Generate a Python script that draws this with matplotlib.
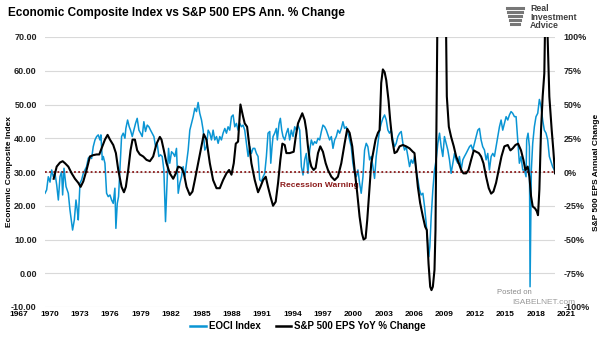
import numpy as np
import matplotlib
matplotlib.use("Agg")
import matplotlib.pyplot as plt
from matplotlib.lines import Line2D

plt.rcParams['font.family'] = ['Liberation Sans', 'DejaVu Sans']

# ------------------------------------------------------------------------
# EOCI index (left axis)
eoci_year = [
    1967.00, 1967.18, 1967.36, 1967.55, 1967.73, 1967.91, 1968.09, 1968.28, 1968.46, 1968.64,
    1968.82, 1968.93, 1969.08, 1969.30, 1969.55, 1969.73, 1969.92, 1970.02, 1970.21, 1970.39,
    1970.53, 1970.64, 1970.83, 1971.01, 1971.19, 1971.37, 1971.55, 1971.74, 1971.92, 1972.10,
    1972.28, 1972.47, 1972.65, 1972.83, 1973.01, 1973.12, 1973.27, 1973.38, 1973.56, 1973.74,
    1973.92, 1974.11, 1974.29, 1974.47, 1974.65, 1974.76, 1974.91, 1975.05, 1975.20, 1975.38,
    1975.56, 1975.75, 1975.85, 1976.04, 1976.22, 1976.36, 1976.55, 1976.73, 1976.91, 1977.09,
    1977.28, 1977.46, 1977.64, 1977.82, 1978.00, 1978.19, 1978.37, 1978.55, 1978.73, 1978.92,
    1979.10, 1979.28, 1979.46, 1979.64, 1979.83, 1980.01, 1980.19, 1980.37, 1980.52, 1980.66,
    1980.85, 1981.03, 1981.21, 1981.39, 1981.58, 1981.76, 1981.94, 1982.12, 1982.30, 1982.49,
    1982.67, 1982.85, 1983.03, 1983.22, 1983.40, 1983.58, 1983.76, 1983.94, 1984.13, 1984.31,
    1984.49, 1984.67, 1984.86, 1985.04, 1985.22, 1985.40, 1985.58, 1985.77, 1985.95, 1986.13,
    1986.31, 1986.49, 1986.68, 1986.86, 1987.04, 1987.22, 1987.41, 1987.59, 1987.77, 1987.95,
    1988.13, 1988.32, 1988.50, 1988.68, 1988.86, 1989.05, 1989.23, 1989.41, 1989.59, 1989.77,
    1989.96, 1990.14, 1990.32, 1990.50, 1990.69, 1990.87, 1991.05, 1991.23, 1991.41, 1991.60,
    1991.71, 1991.85, 1991.96, 1992.14, 1992.32, 1992.43, 1992.62, 1992.76, 1992.91, 1993.05,
    1993.24, 1993.42, 1993.60, 1993.78, 1993.96, 1994.15, 1994.33, 1994.51, 1994.69, 1994.88,
    1995.06, 1995.24, 1995.42, 1995.60, 1995.78, 1995.97, 1996.15, 1996.33, 1996.51, 1996.70,
    1996.88, 1997.06, 1997.24, 1997.42, 1997.61, 1997.79, 1997.97, 1998.15, 1998.34, 1998.52,
    1998.70, 1998.88, 1999.06, 1999.25, 1999.43, 1999.61, 1999.79, 1999.97, 2000.16, 2000.34,
    2000.52, 2000.70, 2000.89, 2001.07, 2001.25, 2001.43, 2001.61, 2001.80, 2001.98, 2002.16,
    2002.34, 2002.53, 2002.71, 2002.89, 2003.07, 2003.25, 2003.44, 2003.62, 2003.80, 2003.98,
    2004.17, 2004.35, 2004.53, 2004.71, 2004.89, 2005.08, 2005.26, 2005.44, 2005.62, 2005.81,
    2005.99, 2006.17, 2006.35, 2006.53, 2006.72, 2006.90, 2007.08, 2007.26, 2007.44, 2007.63,
    2007.81, 2007.99, 2008.17, 2008.36, 2008.54, 2008.72, 2008.90, 2009.01, 2009.12, 2009.27,
    2009.45, 2009.63, 2009.81, 2010.00, 2010.18, 2010.36, 2010.54, 2010.72, 2010.91, 2011.09,
    2011.27, 2011.45, 2011.64, 2011.82, 2012.00, 2012.18, 2012.36, 2012.55, 2012.73, 2012.91,
    2013.09, 2013.27, 2013.46, 2013.64, 2013.82, 2014.00, 2014.19, 2014.37, 2014.55, 2014.73,
    2014.91, 2015.10, 2015.28, 2015.46, 2015.64, 2015.83, 2016.01, 2016.19, 2016.37, 2016.55,
    2016.74, 2016.92, 2017.10, 2017.28, 2017.47, 2017.65, 2017.83, 2018.01, 2018.19, 2018.38,
    2018.56, 2018.74, 2018.92, 2019.10, 2019.29, 2019.47, 2019.65, 2019.72, 2019.87, 2020.02,
    2020.09, 2020.23, 2020.38, 2020.56, 2020.74, 2020.93, 2021.11, 2021.29, 2021.47, 2021.65,
    2021.84, 2022.02, 2022.20, 2022.39, 2022.57, 2022.75,
]
eoci_value = [
    23.7, 24.7, 28.6, 27.0, 30.6, 28.6, 29.6, 26.2, 21.7, 28.6,
    30.1, 23.2, 31.1, 25.7, 23.7, 18.8, 14.8, 12.8, 15.8, 21.7,
    18.8, 15.8, 26.7, 27.7, 29.6, 30.6, 31.6, 34.1, 34.6, 34.0,
    37.5, 39.5, 40.5, 41.0, 39.5, 41.0, 33.6, 34.6, 32.6, 23.7,
    22.7, 23.2, 21.7, 20.7, 25.2, 13.3, 20.7, 22.7, 30.6, 40.5,
    41.5, 40.0, 42.9, 45.4, 43.4, 42.4, 40.5, 42.4, 44.4, 45.9,
    42.4, 41.5, 40.5, 44.9, 42.0, 43.9, 43.4, 42.4, 41.5, 40.5,
    37.5, 38.5, 34.6, 35.1, 34.6, 30.6, 15.3, 27.7, 37.0, 32.6,
    36.0, 35.5, 34.6, 37.0, 23.7, 26.7, 28.6, 31.6, 28.6, 32.6,
    36.5, 42.4, 44.4, 46.4, 48.9, 47.9, 50.6, 47.4, 45.4, 42.4,
    36.5, 37.5, 42.4, 41.5, 39.5, 42.4, 39.5, 40.5, 38.5, 40.5,
    39.5, 41.5, 42.9, 41.5, 43.4, 42.4, 46.4, 46.9, 43.4, 44.4,
    42.4, 44.4, 43.4, 43.9, 42.4, 38.5, 34.6, 37.5, 35.5, 37.0,
    37.0, 35.5, 34.6, 27.7, 27.2, 28.6, 29.6, 34.6, 41.5, 42.0,
    32.6, 37.5, 40.5, 41.5, 42.9, 39.5, 44.4, 45.9, 42.4, 40.5,
    39.5, 41.5, 42.9, 39.5, 42.4, 40.5, 43.4, 42.4, 43.9, 42.4,
    31.6, 29.1, 33.6, 35.5, 29.6, 36.5, 39.5, 38.0, 39.0, 38.5,
    40.0, 39.5, 41.9, 43.9, 43.4, 42.4, 41.0, 39.5, 40.5, 37.0,
    39.5, 40.5, 42.4, 41.5, 42.9, 44.9, 42.9, 43.4, 41.5, 39.5,
    37.5, 32.6, 29.6, 28.6, 30.6, 26.7, 23.7, 28.6, 36.5, 38.5,
    37.5, 33.6, 34.6, 31.6, 28.1, 34.6, 38.5, 42.4, 44.4, 45.9,
    46.9, 45.4, 42.4, 41.5, 42.4, 39.5, 37.5, 38.5, 40.5, 41.5,
    42.0, 38.5, 36.5, 37.5, 34.6, 31.6, 33.6, 32.6, 34.6, 30.6,
    27.7, 24.7, 23.2, 23.7, 19.8, 14.8, 8.9, 4.9, 7.9, 16.8,
    24.7, 30.6, 33.6, 38.5, 41.5, 37.5, 34.6, 40.5, 38.5, 36.5,
    33.6, 29.6, 32.6, 35.5, 33.6, 32.6, 34.6, 30.6, 33.6, 34.6,
    35.5, 36.5, 37.5, 38.0, 36.5, 38.5, 40.5, 42.4, 42.9, 39.5,
    37.5, 36.5, 33.6, 35.5, 30.6, 34.6, 35.5, 34.6, 37.5, 40.5,
    43.4, 45.4, 42.4, 44.4, 46.4, 45.4, 46.9, 47.9, 47.4, 46.4,
    46.4, 39.5, 32.6, 34.6, 30.6, 30.6, 28.6, 39.5, 41.5, 37.5,
    -4.0, 30.6, 38.5, 43.4, 46.4, 47.4, 51.5, 49.4, 45.4, 42.4,
    41.5, 39.5, 34.6, 33.0, 31.5, 30.6,
]

# S&P 500 EPS year-over-year change, % (right axis)
eps_year = [
    1967.95, 1968.28, 1968.64, 1968.93, 1969.19, 1969.55, 1969.92, 1970.28, 1970.64, 1970.90,
    1971.19, 1971.55, 1971.92, 1972.28, 1972.65, 1972.94, 1973.19, 1973.56, 1973.85, 1974.11,
    1974.47, 1974.76, 1975.02, 1975.38, 1975.64, 1975.85, 1976.11, 1976.36, 1976.58, 1976.84,
    1977.09, 1977.38, 1977.75, 1978.11, 1978.48, 1978.84, 1979.21, 1979.57, 1979.75, 1980.01,
    1980.30, 1980.66, 1981.03, 1981.32, 1981.58, 1981.94, 1982.20, 1982.49, 1982.85, 1983.14,
    1983.40, 1983.76, 1984.13, 1984.38, 1984.67, 1985.04, 1985.40, 1985.77, 1986.13, 1986.49,
    1986.86, 1987.15, 1987.41, 1987.66, 1987.88, 1988.13, 1988.39, 1988.68, 1988.86, 1989.12,
    1989.34, 1989.59, 1989.96, 1990.32, 1990.58, 1990.87, 1991.16, 1991.41, 1991.67, 1991.96,
    1992.25, 1992.51, 1992.76, 1992.98, 1993.24, 1993.42, 1993.78, 1994.22, 1994.44, 1994.69,
    1994.88, 1995.16, 1995.42, 1995.60, 1995.78, 1995.97, 1996.15, 1996.40, 1996.62, 1996.88,
    1997.13, 1997.42, 1997.72, 1997.97, 1998.34, 1998.70, 1999.06, 1999.43, 1999.79, 2000.08,
    2000.34, 2000.63, 2000.89, 2001.18, 2001.43, 2001.69, 2001.87, 2002.09, 2002.27, 2002.53,
    2002.71, 2002.96, 2003.18, 2003.44, 2003.62, 2003.80, 2003.98, 2004.17, 2004.35, 2004.60,
    2004.78, 2005.00, 2005.26, 2005.51, 2005.81, 2006.17, 2006.53, 2006.90, 2007.26, 2007.44,
    2007.63, 2007.81, 2008.06, 2008.36, 2008.61, 2008.79, 2008.98, 2009.16, 2009.30, 2009.45,
    2009.63, 2009.74, 2009.81, 2010.36, 2010.98, 2011.20, 2011.45, 2011.74, 2012.00, 2012.29,
    2012.55, 2012.80, 2013.09, 2013.35, 2013.64, 2013.93, 2014.19, 2014.48, 2014.73, 2014.99,
    2015.28, 2015.57, 2015.83, 2016.08, 2016.37, 2016.66, 2016.96, 2017.28, 2017.65, 2017.94,
    2018.19, 2018.49, 2018.78, 2019.10, 2019.36, 2019.58, 2019.83, 2020.02, 2020.20, 2020.38,
    2020.64, 2020.82, 2020.96, 2021.11, 2021.29, 2021.47, 2021.65, 2021.82, 2022.20, 2022.46,
    2022.64, 2022.82,
]
eps_change = [
    -5, 4, 7, 8, 6.5, 4, -1, -5, -8, -11,
    -7, 1.5, 11.5, 12.5, 13, 13, 17.5, 24, 27.5, 24,
    20, 14, 1.5, -11, -15, -11, 1.5, 16, 24, 24,
    16, 13, 11.5, 9, 8, 11.5, 21, 26, 24, 16,
    6.5, -1, -5, -1, 4, 3, -1, -11, -17, -14.5,
    -6, 6.5, 19, 28, 24, 6.5, -6, -12, -12, -6,
    -1, 1.5, -2, 6.5, 21, 22.5, 50, 41, 36, 33.5,
    21, 6.5, -6, -15, -11, -6, -3.5, -11, -18, -25,
    -22, -8, 9, 21, 20, 14, 14, 15, 26, 36,
    39, 43.5, 38.5, 31, 19, 9, 4, 1.5, 3, 14,
    19, 15, 6.5, 1.5, -3.5, -6, -3.5, 6.5, 21, 32,
    29, 19, 1.5, -16, -33, -45.5, -50, -49, -35.5, -11,
    6.5, 16, 24, 29, 31, 66, 76, 74, 68, 53,
    38.5, 24, 14, 15, 19, 20, 19, 17.5, 15, 14,
    1.5, -11, -23, -33, -40.5, -43, -68, -85, -87.5, -85,
    -72.5, -43, 6.5, 425, 56, 33.5, 26, 19, 11.5, 6.5,
    1.5, -1, -1, 1.5, 9, 16, 15, 14, 11.5, 6.5,
    -3.5, -12, -16, -14.5, -8, 1.5, 11.5, 19, 20, 16,
    17.5, 20, 21, 16, 9, 1.5, 4, -3.5, -18, -25.5,
    -27, -29, -32, -13, 31, 56, 73, 145, 56, 31,
    16, -1,
]

recession_level = 30.0
year_labels = list(range(1967, 2022, 3))

blue = '#0a95d4'
dark_red = '#8b1a1a'
label_grey = '#404040'

# ------------------------------------------------------------------------
fig = plt.figure(figsize=(6.05, 3.41), dpi=100)
ax = fig.add_axes([45 / 605, 34 / 341, 510 / 605, 270 / 341])
ax2 = ax.twinx()

ax.set_ylim(-10, 70)
ax.set_yticks(np.arange(-10, 71, 10))
ax.set_yticklabels(['%.2f' % v for v in np.arange(-10, 71, 10)])
ax.set_xlim(1967.0, 2022.82)
ax.set_xticks([])
ax.grid(axis='y', color='#d9d9d9', linewidth=0.8)
ax.set_axisbelow(True)

ax2.set_ylim(-100, 100)
ax2.set_yticks(np.arange(-100, 101, 25))
ax2.set_yticklabels(['%d%%' % v for v in np.arange(-100, 101, 25)])

for a in (ax, ax2):
    for s in a.spines.values():
        s.set_visible(False)
    a.tick_params(axis='y', length=0, labelsize=6.5, colors='#222222')
    for t in a.get_yticklabels():
        t.set_fontweight('bold')
ax.tick_params(axis='y', pad=6)
ax2.tick_params(axis='y', pad=6)

ax.plot(eoci_year, eoci_value, color=blue, lw=1.1, zorder=2)
ax.axhline(recession_level, color=dark_red, lw=1.3, ls=(0, (1, 1.3)), zorder=3)
ax2.plot(eps_year, eps_change, color='black', lw=1.5, zorder=4)

ax.text(1997.0, 25.9, 'Recession Warning', color=dark_red, fontsize=6,
        fontweight='bold', ha='center', va='center')

# axis titles sit at the figure edges
fig.text(10 / 605, 1 - 172 / 341, 'Economic Composite Index', fontsize=6,
         fontweight='bold', rotation=90, ha='center', va='center')
fig.text(596 / 605, 1 - 172 / 341, 'S&P 500 EPS Annual Change', fontsize=6,
         fontweight='bold', rotation=90, ha='center', va='center')

# year labels run on their own spacing under the plot
lab = fig.add_axes([19 / 605, 34 / 341, 547 / 605, 0.001])
lab.set_xlim(1967, 2021)
lab.set_xticks(year_labels)
lab.set_xticklabels([str(y) for y in year_labels])
lab.set_yticks([])
for s in lab.spines.values():
    s.set_visible(False)
lab.tick_params(axis='x', length=0, labelsize=6, pad=3)
for t in lab.get_xticklabels():
    t.set_fontweight('bold')
lab.patch.set_alpha(0)

handles = [Line2D([], [], color=blue, lw=1.8), Line2D([], [], color='black', lw=1.8)]
fig.legend(handles, ['EOCI Index', 'S&P 500 EPS YoY % Change'], loc='center',
           bbox_to_anchor=(308 / 605, 15 / 341), ncol=2, frameon=False,
           prop={'size': 7, 'weight': 'bold'}, handlelength=1.6, handletextpad=0.3,
           columnspacing=1.6)

fig.text(8 / 605, 1 - 13 / 341, 'Economic Composite Index vs S&P 500 EPS Ann. % Change',
         fontsize=8.5, fontweight='bold', va='center', ha='left')

# logo block
fig.text(530 / 605, 1 - 17 / 341, 'Real\nInvestment\nAdvice', fontsize=6.3,
         fontweight='bold', color=label_grey, va='center', ha='left', linespacing=0.9)
for i, w in enumerate([16, 14, 12, 10, 8]):
    yy = 1 - (8 + i * 4) / 341
    fig.add_artist(Line2D([(507 + (16 - w) / 2) / 605, (507 + (16 - w) / 2 + w) / 605],
                          [yy, yy], color='#777777', lw=2.2))

fig.text(497 / 605, 1 - 292 / 341, 'Posted on', fontsize=5.5, color='#8a8a8a',
         va='center', ha='left')
fig.text(512 / 605, 1 - 302 / 341, 'ISABELNET.com', fontsize=6, color='#9a9a9a',
         va='center', ha='left')

fig.savefig('out.png', dpi=100)
